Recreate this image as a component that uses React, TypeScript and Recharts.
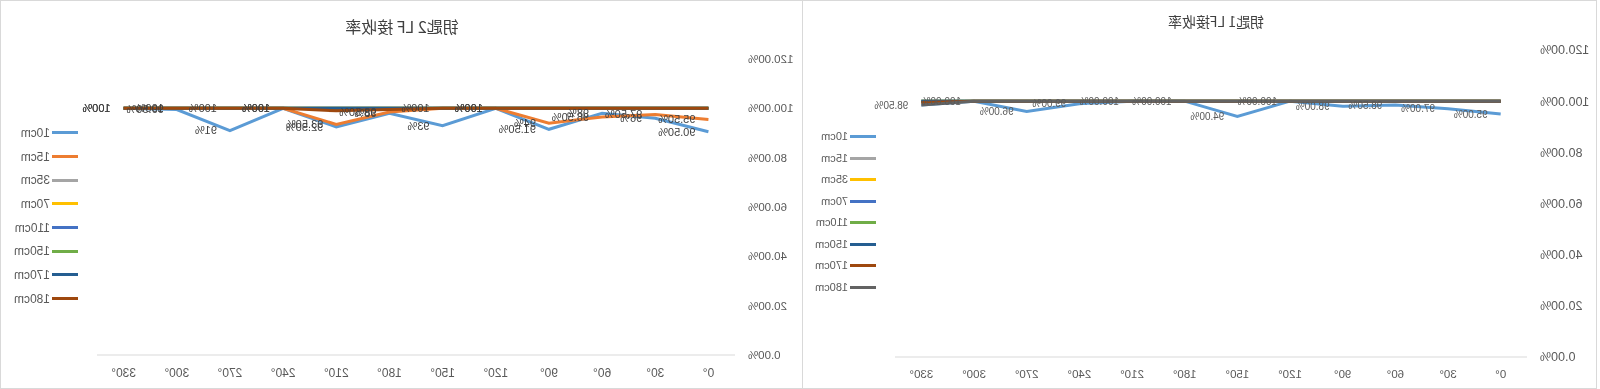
import React from 'react';
import { LineChart, Line, XAxis, YAxis, Legend, LabelList } from 'recharts';

// ---------- data ----------
const angles = ['0°', '30°', '60°', '90°', '120°', '150°', '180°', '210°', '240°', '270°', '300°', '330°'];
const yTicks = [0, 20, 40, 60, 80, 100, 120];

// 钥匙1 LF接收率
const k1_10cm = [95, 97, 98.5, 98, 100, 94, 100, 100, 99, 96, 100, 98.5];
const k1_15cm = [100, 100, 100, 100, 100, 100, 100, 100, 100, 100, 100, 100];
const k1_35cm = [100, 100, 100, 100, 100, 100, 100, 100, 100, 100, 100, 100];
const k1_70cm = [100, 100, 100, 100, 100, 100, 100, 100, 100, 100, 100, 100];
const k1_110cm = [100, 100, 100, 100, 100, 100, 100, 100, 100, 100, 100, 100];
const k1_150cm = [100, 100, 100, 100, 100, 100, 100, 100, 100, 100, 100, 100];
const k1_170cm = [100, 100, 100, 100, 100, 100, 100, 100, 100, 100, 100, 99.5];
const k1_180cm = [100, 100, 100, 100, 100, 100, 100, 100, 100, 100, 100, 98.5];

// 钥匙2 LF 接收率
const k2_10cm = [90.5, 96, 98, 91.5, 100, 93, 98, 92.5, 100, 91, 99.5, 100];
const k2_15cm = [95.5, 97.5, 96.5, 94, 100, 100, 98.5, 93.5, 100, 100, 100, 100];
const k2_35cm = [100, 100, 100, 100, 100, 100, 100, 100, 100, 100, 100, 100];
const k2_70cm = [100, 100, 100, 100, 100, 100, 100, 100, 100, 100, 100, 100];
const k2_110cm = [100, 100, 100, 100, 100, 100, 100, 100, 100, 100, 100, 100];
const k2_150cm = [100, 100, 100, 100, 100, 100, 100, 100, 100, 100, 100, 100];
const k2_170cm = [100, 100, 100, 100, 100, 100, 100, 100, 100, 100, 100, 100];
const k2_180cm = [100, 100, 100, 100, 100, 100, 99.5, 99, 100, 100, 100, 100];

const seriesNames = ['10cm', '15cm', '35cm', '70cm', '110cm', '150cm', '170cm', '180cm'];
const k1Values = [k1_10cm, k1_15cm, k1_35cm, k1_70cm, k1_110cm, k1_150cm, k1_170cm, k1_180cm];
const k2Values = [k2_10cm, k2_15cm, k2_35cm, k2_70cm, k2_110cm, k2_150cm, k2_170cm, k2_180cm];

// ---------- styles ----------
const k1Colors = ['#5B9BD5', '#A5A5A5', '#FFC000', '#4472C4', '#70AD47', '#255E91', '#9E480E', '#636363'];
const k2Colors = ['#5B9BD5', '#ED7D31', '#A5A5A5', '#FFC000', '#4472C4', '#70AD47', '#255E91', '#9E480E'];
const k1Labelled = [true, false, false, false, false, false, false, false];
const k2Labelled = [true, true, false, false, false, false, false, false];

const buildRows = (values: number[][]) =>
  angles.map((a, i) => {
    const row: Record<string, any> = { angle: a };
    seriesNames.forEach((n, s) => {
      row[n] = values[s][i];
    });
    return row;
  });

const k1Data = buildRows(k1Values);
const k2Data = buildRows(k2Values);

const LATIN = "'Liberation Sans', Arial, sans-serif";
const CJK = "'Noto Sans CJK SC', 'Liberation Sans', sans-serif";

const fmtAxis = (v: number) => `${v.toFixed(2)}%`;
const fmtK1 = (v: any) => `${Number(v).toFixed(2)}%`;
const fmtK2 = (v: any) => {
  const n = Number(v);
  return Number.isInteger(n) ? `${n}%` : `${n.toFixed(2)}%`;
};

const LegendBox = (props: any) => {
  const { payload, rowH, fontSize, lineW } = props;
  const items = [...(payload || [])].sort(
    (a: any, b: any) => seriesNames.indexOf(String(a.value)) - seriesNames.indexOf(String(b.value))
  );
  return (
    <div>
      {items.map((p: any) => (
        <div key={p.value} style={{ height: rowH, display: 'flex', alignItems: 'center' }}>
          <span style={{ display: 'inline-block', width: lineW, height: 3, background: p.color }} />
          <span style={{ marginLeft: 2, fontSize, color: '#595959', fontFamily: LATIN, lineHeight: 1 }}>{p.value}</span>
        </div>
      ))}
    </div>
  );
};

type ChartProps = {
  data: any[];
  colors: string[];
  labelled: boolean[];
  width: number;
  margin: { top: number; right: number; bottom: number; left: number };
  yWidth: number;
  plotW: number;
  yFont: number;
  xFont: number;
  labelFont: number;
  labelColor: string;
  fmt: (v: any) => string;
  legendLeft: number;
  legendTop: number;
  legendRowH: number;
  legendFont: number;
};

const KeyChart = (p: ChartProps) => {
  const pad = p.plotW / angles.length / 2;
  return (
    <LineChart width={p.width} height={389} data={p.data} margin={p.margin}>
      <XAxis
        dataKey="angle"
        interval={0}
        padding={{ left: pad, right: pad }}
        axisLine={{ stroke: '#D9D9D9', strokeWidth: 1 }}
        tickLine={false}
        tickSize={0}
        tickMargin={13}
        height={30}
        tick={{ fontSize: p.xFont, fill: '#595959', fontFamily: LATIN }}
      />
      <YAxis
        domain={[0, 120]}
        ticks={yTicks}
        tickFormatter={fmtAxis}
        axisLine={false}
        tickLine={false}
        tickSize={0}
        tickMargin={13}
        width={p.yWidth}
        tick={{ fontSize: p.yFont, fill: '#595959', fontFamily: LATIN }}
      />
      <Legend
        layout="horizontal"
        align="center"
        verticalAlign="middle"
        wrapperStyle={{ left: p.legendLeft, top: p.legendTop, width: 70 }}
        content={(lp: any) => <LegendBox {...lp} rowH={p.legendRowH} fontSize={p.legendFont} lineW={26} />}
      />
      {seriesNames.map((n, s) => (
        <Line
          key={n}
          type="linear"
          dataKey={n}
          name={n}
          stroke={p.colors[s]}
          strokeWidth={3}
          dot={false}
          activeDot={false}
          isAnimationActive={false}
        >
          {p.labelled[s] ? (
            <LabelList
              dataKey={n}
              position="right"
              offset={13}
              formatter={p.fmt}
              fontSize={p.labelFont}
              fill={p.labelColor}
              fontFamily={LATIN}
            />
          ) : null}
        </Line>
      ))}
    </LineChart>
  );
};

export default function App() {
  return (
    <div
      style={{
        position: 'fixed',
        left: 0,
        top: 0,
        width: 1600,
        height: 389,
        background: '#ffffff',
        overflow: 'hidden',
        transform: 'scaleX(-1)',
      }}
    >
      {/* Panel: 钥匙1 */}
      <div
        style={{
          position: 'absolute',
          left: 3,
          top: 0,
          width: 795,
          height: 389,
          border: '1px solid #D9D9D9',
          boxSizing: 'border-box',
        }}
      />
      <div style={{ position: 'absolute', left: 3, top: 0 }}>
        <KeyChart
          data={k1Data}
          colors={k1Colors}
          labelled={k1Labelled}
          width={794}
          margin={{ top: 50, right: 92, bottom: 2, left: 0 }}
          yWidth={70}
          plotW={632}
          yFont={12.5}
          xFont={11.5}
          labelFont={10}
          labelColor="#595959"
          fmt={fmtK1}
          legendLeft={721}
          legendTop={126}
          legendRowH={21.5}
          legendFont={11}
        />
      </div>
      <div
        style={{
          position: 'absolute',
          left: 384,
          top: 21,
          transform: 'translate(-50%, -50%)',
          fontFamily: CJK,
          fontSize: 14,
          color: '#404040',
          whiteSpace: 'nowrap',
        }}
      >
        钥匙1 LF接收率
      </div>

      {/* Panel: 钥匙2 */}
      <div
        style={{
          position: 'absolute',
          left: 797,
          top: 0,
          width: 803,
          height: 389,
          border: '1px solid #D9D9D9',
          boxSizing: 'border-box',
        }}
      />
      <div style={{ position: 'absolute', left: 797, top: 0 }}>
        <KeyChart
          data={k2Data}
          colors={k2Colors}
          labelled={k2Labelled}
          width={803}
          margin={{ top: 59, right: 97, bottom: 4, left: 0 }}
          yWidth={68}
          plotW={638}
          yFont={11.5}
          xFont={12}
          labelFont={11}
          labelColor="#404040"
          fmt={fmtK2}
          legendLeft={725}
          legendTop={121}
          legendRowH={23.7}
          legendFont={12}
        />
      </div>
      <div
        style={{
          position: 'absolute',
          left: 1198,
          top: 26,
          transform: 'translate(-50%, -50%)',
          fontFamily: CJK,
          fontSize: 16,
          color: '#404040',
          whiteSpace: 'nowrap',
        }}
      >
        钥匙2 LF 接收率
      </div>
    </div>
  );
}
